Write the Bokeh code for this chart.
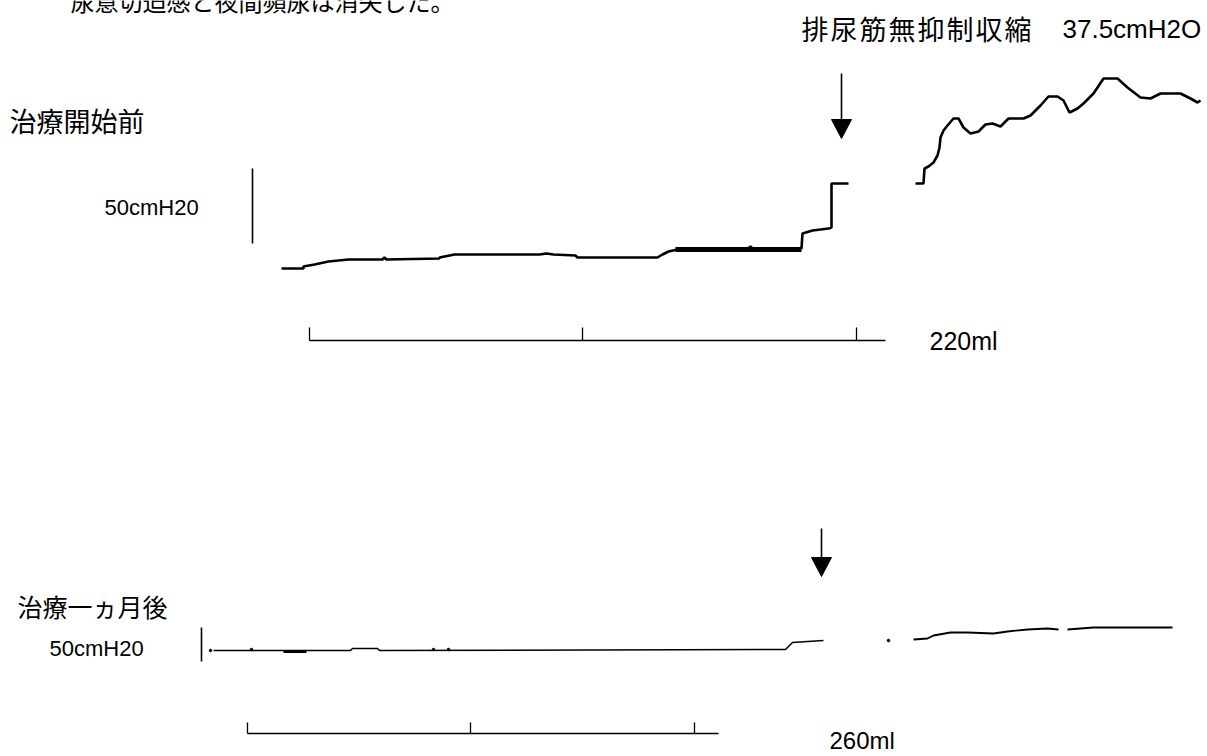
import numpy as np
from bokeh.plotting import figure
from bokeh.models import Range1d
from bokeh.core.properties import value
from bokeh.embed import file_html
from bokeh.resources import INLINE

# ---------------- data (picture-pixel units) ----------------
# top tracing (before treatment)
top_x = [281, 303, 303, 314, 328, 348, 382, 384, 386, 439, 439, 454, 539, 546, 553,
         575, 577, 618, 657, 662, 668, 677, 748, 750, 752, 801, 802, 812, 828, 831, 831, 848]
top_y = [268, 268, 266, 264, 261, 259, 259, 257, 259, 258, 257, 254, 254, 253, 254,
         255, 257, 257, 257, 254, 251, 249, 248, 246, 248, 248, 233, 230, 228, 227, 183, 183]
thick_x = [675, 801]
thick_y = [249, 249]
wave_x = [915, 923, 924, 928, 933, 937, 939, 940, 943, 947, 953, 958, 963, 970, 978, 985,
          992, 1000, 1008, 1023, 1030, 1040, 1048, 1057, 1063, 1069, 1077, 1083, 1093, 1103,
          1117, 1127, 1140, 1150, 1160, 1180, 1190, 1197, 1200]
wave_y = [183, 183, 168, 166, 162, 155, 147, 137, 130, 125, 118, 118, 127, 133, 131, 124,
          123, 126, 118, 118, 115, 105, 96, 96, 100, 112, 108, 103, 93, 78,
          78, 87, 97, 98, 93, 93, 98, 102, 100]

# bottom tracing (one month after)
bot1_x = [213, 350, 352, 377, 379, 785, 792, 807, 823]
bot1_y = [650, 650, 648, 648, 650, 649, 642, 641, 640]
bot_thick_x = [283, 306]
bot_thick_y = [651, 651]
bot_dot_x = [210, 251, 433, 448, 888]
bot_dot_y = [650, 649, 649, 649, 640]
bot2_x = [913, 927, 933, 950, 967, 993, 1007, 1027, 1047, 1058, np.nan, 1067, 1080, 1093, 1127, 1160, 1172]
bot2_y = [639, 638, 635, 632, 632, 633, 631, 629, 628, 629, np.nan, 629, 628, 627, 627, 627, 627]

# scale bars
pbar_x = [252, 201]
pbar_top = [168, 627]
pbar_bot = [243, 661]
vbar_y = [340, 733]
vbar_start = [309, 247]
vbar_end = [885, 718]
vbar_ticks = [[309, 582, 856], [247, 470, 694]]
tick_len = [13, 11]

# arrows
arrow_x = [841, 821]
arrow_top = [73, 528]
arrow_tip = [138, 576]

FONT_CJK = "Noto Sans CJK JP"
FONT_LAT = "Liberation Sans"

W, H = 1207, 756
p = figure(width=W, height=H, output_backend="svg", toolbar_location=None,
           x_range=Range1d(0, W), y_range=Range1d(H, 0), min_border=0)
p.axis.visible = False
p.grid.visible = False
p.outline_line_color = None
p.background_fill_color = "white"
p.border_fill_color = "white"

# traces
p.line(top_x, top_y, line_color="black", line_width=2.6)
p.line(thick_x, thick_y, line_color="black", line_width=5)
p.line(wave_x, wave_y, line_color="black", line_width=2.6)
p.line(bot1_x, bot1_y, line_color="black", line_width=1.5)
p.line(bot_thick_x, bot_thick_y, line_color="black", line_width=3)
p.line(bot2_x, bot2_y, line_color="black", line_width=1.8)
p.scatter(bot_dot_x, bot_dot_y, size=2.5, color="black")

# pressure scale bars
p.segment(x0=pbar_x, y0=pbar_top, x1=pbar_x, y1=pbar_bot, line_color="black", line_width=1.6)

# volume scale bars
for yv, xs, xe, ticks, tl in zip(vbar_y, vbar_start, vbar_end, vbar_ticks, tick_len):
    p.segment(x0=[xs], y0=[yv], x1=[xe], y1=[yv], line_color="black", line_width=1.6)
    p.segment(x0=ticks, y0=[yv - tl] * len(ticks), x1=ticks, y1=[yv] * len(ticks),
              line_color="black", line_width=1.3)

# arrows
head_len = [19, 19]
half_w = [10, 10]
p.segment(x0=arrow_x, y0=arrow_top, x1=arrow_x, y1=[t - h for t, h in zip(arrow_tip, head_len)],
          line_color="black", line_width=1.6)
p.patches(xs=[[x - w, x + w, x] for x, w in zip(arrow_x, half_w)],
          ys=[[t - h, t - h, t] for t, h in zip(arrow_tip, head_len)],
          fill_color="black", line_color="black")

# ---------------- texts ----------------
def txt(x, y, s, size, font, align="left", baseline="middle", style="normal"):
    p.text(x=[x], y=[y], text=[s], text_font=value(font), text_font_size=f"{size}px",
           text_align=align, text_baseline=baseline, text_color="black",
           text_font_style=style)

# caption that runs off the top of the page (only its lower part shows, as in the source)
txt(70, 0, "尿意切迫感と夜間頻尿は消失した。", 24, FONT_CJK, baseline="middle")

# annotation with wide character pitch
anno = "排尿筋無抑制収縮"
for i, ch in enumerate(anno):
    txt(801 + i * 29, 28, ch, 27, FONT_CJK)
txt(1062, 28, "37.5cmH2O", 26, FONT_LAT)

txt(9, 120, "治療開始前", 27, FONT_CJK)
txt(104, 207, "50cmH20", 22, FONT_LAT)
txt(929, 340, "220ml", 25, FONT_LAT)

txt(17, 605, "治療一ヵ月後", 25, FONT_CJK)
txt(49, 648, "50cmH20", 22, FONT_LAT)
txt(829, 740, "260ml", 24, FONT_LAT)

open("out.html", "w").write(file_html(p, INLINE))
